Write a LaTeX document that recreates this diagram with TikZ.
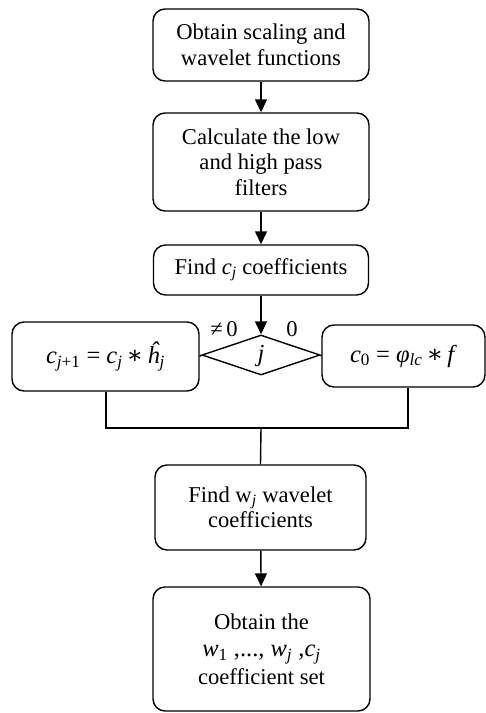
\documentclass[tikz,border=0pt]{standalone}
\usepackage{fontspec}
\setmainfont{Liberation Serif}
\newfontfamily\dvs{DejaVu Serif}
\usetikzlibrary{shapes.geometric,arrows.meta}
\newcommand{\vi}[1]{\textit{#1}}
\newcommand{\sbs}[1]{\textsubscript{#1}}
\newcommand{\myast}{\,{\dvs ∗}\,}
\begin{document}
\begin{tikzpicture}[x=1pt,y=-1pt,
  every node/.style={font=\fontsize{22.6}{25.5}\selectfont},
  mathtxt/.style={font=\fontsize{24.5}{26}\selectfont},
  boxstyle/.style={draw,line width=1.4pt,rounded corners=12pt,align=center,inner sep=0pt},
  conn/.style={line width=1.4pt},
  arr/.style={conn,-{Triangle[length=13pt,width=12pt]}}]
\useasboundingbox (0,0) rectangle (486,713);
\node[boxstyle,minimum width=216pt,minimum height=72pt] (b1) at (261,45) {Obtain scaling and\\wavelet functions};
\node[boxstyle,minimum width=216pt,minimum height=98pt] (b2) at (261,162) {Calculate the low\\and high pass\\filters};
\node[boxstyle,minimum width=215pt,minimum height=50pt] (b3) at (261,270) {Find \vi{c}\sbs{\vi{j}} coefficients};
\node[diamond,draw,line width=1.4pt,aspect=2.95,minimum width=118pt,minimum height=40pt,inner sep=0pt] (d) at (261,355) {};
\node[mathtxt] (jv) at (261,356) {\vi{j}};
\node[boxstyle,mathtxt,minimum width=187pt,minimum height=69pt] (L) at (105.5,356.5) {\vi{c}\sbs{\vi{j}+1} = \vi{c}\sbs{\vi{j}}\myast\vi{ĥ}\sbs{\vi{j}}};
\node[boxstyle,mathtxt,minimum width=163pt,minimum height=62pt] (R) at (403.5,356) {\vi{c}\sbs{0} = \vi{φ}\sbs{\vi{lc}}\myast\vi{f}};
\node (lne) at (224,329) {≠\,0};
\node (lz) at (292,329) {0};
\node[boxstyle,minimum width=211pt,minimum height=85pt] (b4) at (260.5,507.5) {Find w\sbs{\vi{j}} wavelet\\coefficients};
\node[boxstyle,minimum width=217pt,minimum height=124pt] (b5) at (261.5,649) {Obtain the\\[2pt]{\fontsize{24.5}{26}\selectfont\vi{w}\sbs{1} ,..., \vi{w}\sbs{\vi{j}} ,\vi{c}\sbs{\vi{j}}}\\[2pt]coefficient set};
\coordinate (jl) at (106,428);
\coordinate (jr) at (408,428);
\coordinate (jm) at (261,428);
\draw[arr] (b1) -- (b2);
\draw[arr] (b2) -- (b3);
\draw[arr] (b3) -- (d.north);
\draw[conn] (d.west) -- (L.east);
\draw[conn] (d.east) -- (R.east -| R.west);
\draw[conn] (L.south -| jl) -- (jl) -- (jr) -- (R.south -| jr);
\draw[conn] (jm) -- (b4.north);
\draw[arr] (b4) -- (b5);
\end{tikzpicture}
\end{document}
